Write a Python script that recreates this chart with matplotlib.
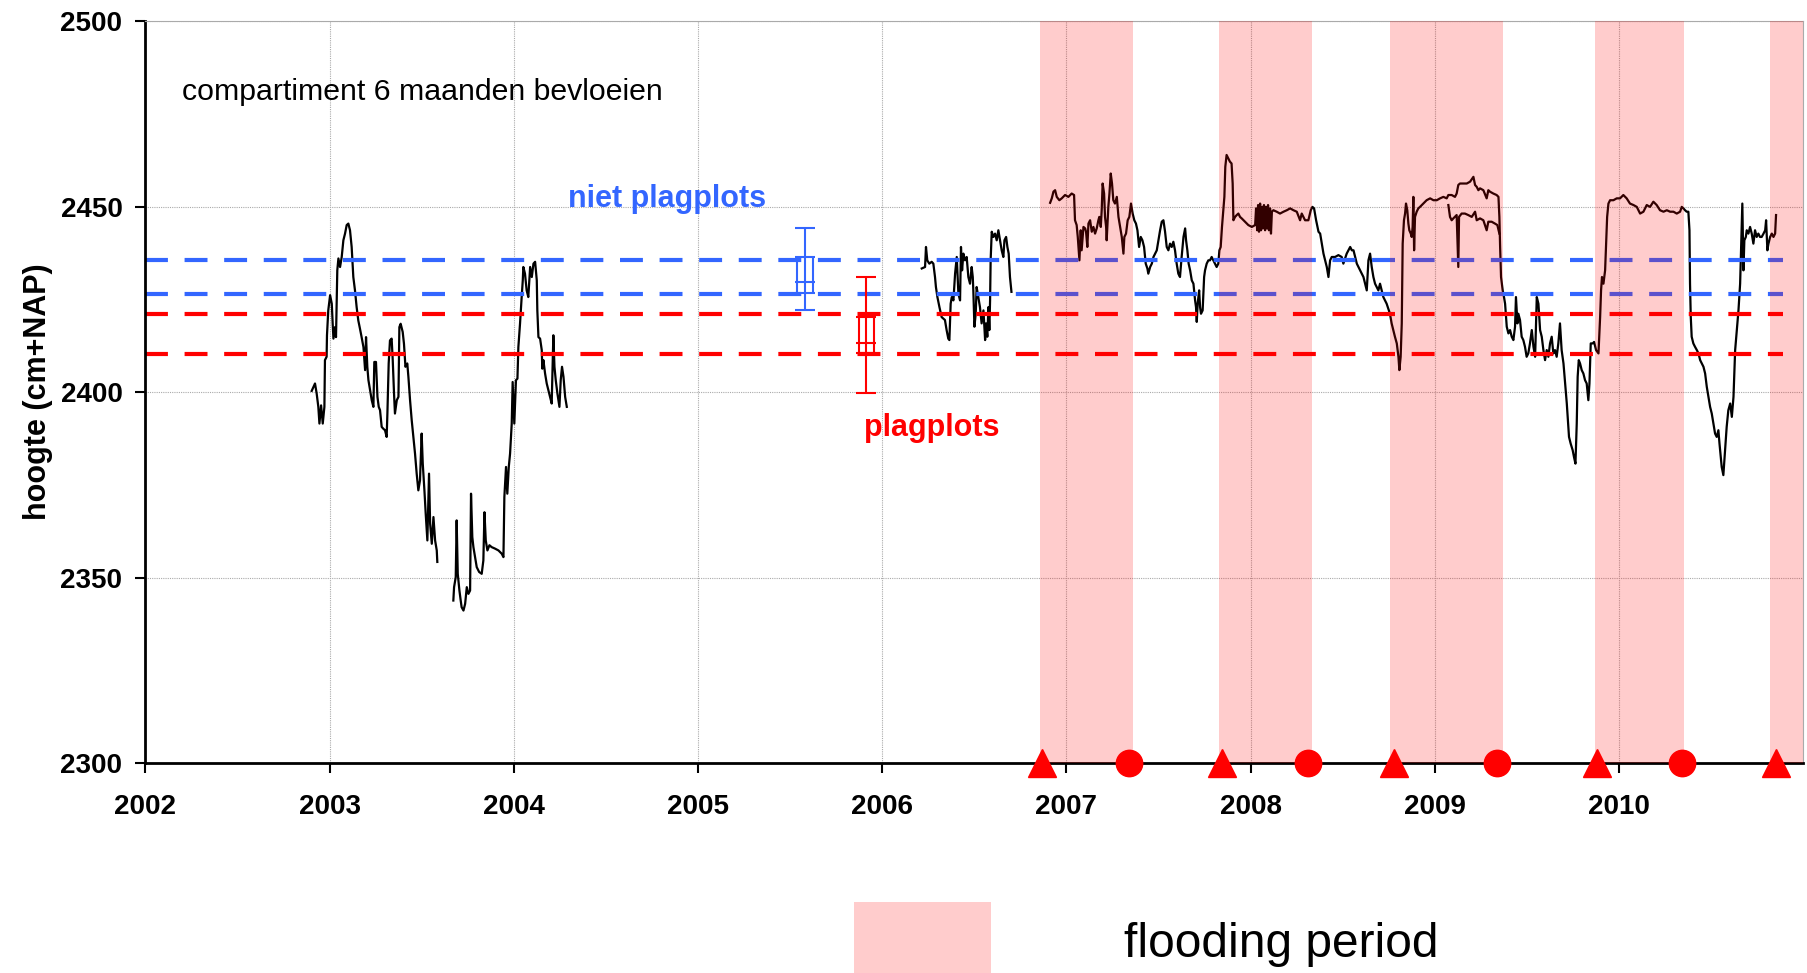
import matplotlib
matplotlib.use("Agg")
import matplotlib.pyplot as plt
from matplotlib.patches import Rectangle

plt.rcParams['font.family'] = ['Liberation Sans', 'DejaVu Sans']

# groundwater level (cm+NAP) per decimal year, one list per logger period
level_2003_early = [
    (2002.903, 2400.3), (2002.921, 2402.3), (2002.930, 2399.6), (2002.939, 2396.0), (2002.945, 2391.5),
    (2002.954, 2396.4), (2002.963, 2391.5), (2002.972, 2396.0), (2002.975, 2408.6), (2002.984, 2409.5),
    (2002.986, 2415.3), (2002.993, 2422.0), (2003.003, 2426.1), (2003.012, 2423.8), (2003.017, 2418.4),
    (2003.021, 2414.4), (2003.030, 2417.5), (2003.035, 2414.8), (2003.042, 2432.8), (2003.048, 2436.0),
    (2003.057, 2433.7), (2003.066, 2436.4), (2003.075, 2440.9), (2003.084, 2442.7), (2003.093, 2445.0),
    (2003.102, 2445.4), (2003.111, 2443.6), (2003.120, 2439.1), (2003.129, 2431.0), (2003.138, 2427.4),
    (2003.147, 2422.9), (2003.156, 2419.3), (2003.165, 2417.1), (2003.174, 2414.8), (2003.184, 2412.1),
    (2003.193, 2405.9), (2003.198, 2414.8), (2003.205, 2406.8), (2003.211, 2403.2), (2003.220, 2400.5),
    (2003.229, 2397.8), (2003.238, 2396.0), (2003.243, 2408.1), (2003.252, 2408.1), (2003.260, 2398.7),
    (2003.267, 2396.0), (2003.274, 2395.1), (2003.283, 2390.6), (2003.292, 2390.1), (2003.301, 2389.7),
    (2003.310, 2387.9), (2003.314, 2394.2), (2003.321, 2407.7), (2003.328, 2413.9), (2003.337, 2414.4),
    (2003.343, 2408.6), (2003.350, 2399.6), (2003.355, 2394.2), (2003.365, 2397.8), (2003.374, 2398.7),
    (2003.379, 2417.5), (2003.386, 2418.4), (2003.397, 2416.2), (2003.404, 2413.0), (2003.412, 2406.8),
    (2003.422, 2407.7), (2003.428, 2404.1), (2003.437, 2397.8), (2003.446, 2392.4), (2003.455, 2387.9),
    (2003.464, 2383.4), (2003.473, 2378.0), (2003.482, 2373.5), (2003.491, 2376.2), (2003.500, 2388.8),
    (2003.506, 2380.7), (2003.515, 2373.5), (2003.522, 2367.2), (2003.531, 2360.0), (2003.540, 2378.0),
    (2003.546, 2364.5), (2003.555, 2359.1), (2003.564, 2366.3), (2003.573, 2360.0), (2003.582, 2357.3),
    (2003.585, 2354.2),
]

level_2003_late = [
    (2003.672, 2343.8), (2003.676, 2347.4), (2003.685, 2350.1), (2003.690, 2365.4), (2003.696, 2351.0),
    (2003.705, 2346.5), (2003.712, 2343.8), (2003.717, 2342.0), (2003.727, 2341.1), (2003.736, 2342.9),
    (2003.745, 2347.4), (2003.754, 2345.6), (2003.763, 2346.5), (2003.768, 2372.6), (2003.775, 2360.9),
    (2003.781, 2358.2), (2003.790, 2355.5), (2003.799, 2352.8), (2003.812, 2351.5), (2003.826, 2351.0),
    (2003.835, 2354.6), (2003.841, 2367.6), (2003.848, 2360.0), (2003.857, 2357.3), (2003.868, 2358.7),
    (2003.880, 2358.2), (2003.898, 2357.8), (2003.917, 2357.3), (2003.935, 2356.4), (2003.944, 2355.5),
    (2003.949, 2371.7), (2003.958, 2379.8), (2003.965, 2372.6), (2003.973, 2379.8), (2003.980, 2383.4),
    (2003.989, 2391.5), (2003.994, 2402.7), (2004.003, 2391.5), (2004.012, 2403.2), (2004.020, 2403.6),
    (2004.025, 2412.1), (2004.034, 2418.4), (2004.043, 2425.6), (2004.049, 2430.1), (2004.052, 2433.7),
    (2004.061, 2431.9), (2004.070, 2427.4), (2004.079, 2425.6), (2004.089, 2433.7), (2004.098, 2431.0),
    (2004.107, 2434.6), (2004.116, 2435.1), (2004.125, 2430.1), (2004.128, 2422.0), (2004.134, 2414.8),
    (2004.143, 2414.4), (2004.152, 2411.3), (2004.155, 2406.3), (2004.161, 2408.6), (2004.170, 2405.0),
    (2004.179, 2402.3), (2004.188, 2400.5), (2004.197, 2398.7), (2004.206, 2396.9), (2004.215, 2415.3),
    (2004.221, 2406.8), (2004.228, 2403.2), (2004.237, 2399.6), (2004.248, 2396.0), (2004.255, 2403.2),
    (2004.262, 2406.8), (2004.270, 2404.1), (2004.279, 2398.7), (2004.288, 2396.0),
]

level_2006 = [
    (2006.215, 2433.3), (2006.233, 2433.7), (2006.238, 2439.1), (2006.245, 2435.5), (2006.256, 2434.6),
    (2006.269, 2435.1), (2006.278, 2434.6), (2006.287, 2431.0), (2006.292, 2428.3), (2006.300, 2425.6),
    (2006.311, 2422.9), (2006.323, 2420.2), (2006.332, 2419.8), (2006.341, 2419.4), (2006.350, 2416.7),
    (2006.359, 2414.4), (2006.365, 2414.0), (2006.372, 2423.8), (2006.378, 2425.6), (2006.387, 2424.7),
    (2006.396, 2431.9), (2006.405, 2436.4), (2006.414, 2426.5), (2006.423, 2424.7), (2006.428, 2439.1),
    (2006.434, 2432.8), (2006.441, 2437.3), (2006.450, 2435.5), (2006.459, 2436.4), (2006.468, 2431.0),
    (2006.477, 2429.2), (2006.486, 2433.7), (2006.492, 2431.0), (2006.495, 2427.4), (2006.501, 2417.6),
    (2006.508, 2421.1), (2006.513, 2428.3), (2006.522, 2425.6), (2006.531, 2422.9), (2006.540, 2418.5),
    (2006.550, 2422.0), (2006.559, 2414.0), (2006.564, 2418.5), (2006.571, 2414.9), (2006.577, 2422.9),
    (2006.582, 2416.7), (2006.586, 2424.7), (2006.589, 2435.5), (2006.595, 2443.2), (2006.604, 2441.8),
    (2006.613, 2442.7), (2006.622, 2440.9), (2006.631, 2443.6), (2006.640, 2440.9), (2006.649, 2438.2),
    (2006.658, 2436.4), (2006.664, 2440.9), (2006.673, 2441.8), (2006.680, 2439.1), (2006.687, 2437.3),
    (2006.694, 2431.0), (2006.702, 2427.0),
]

level_2007_2010 = [
    (2006.912, 2451.0), (2006.921, 2452.2), (2006.930, 2454.0), (2006.939, 2454.4), (2006.948, 2452.6),
    (2006.962, 2451.7), (2006.975, 2452.2), (2006.993, 2453.1), (2007.011, 2452.6), (2007.029, 2453.5),
    (2007.042, 2453.1), (2007.047, 2446.3), (2007.056, 2445.0), (2007.062, 2441.8), (2007.071, 2435.5),
    (2007.078, 2443.6), (2007.083, 2438.2), (2007.093, 2444.5), (2007.102, 2444.1), (2007.107, 2443.2),
    (2007.114, 2439.1), (2007.120, 2445.4), (2007.129, 2446.3), (2007.138, 2443.2), (2007.147, 2444.5),
    (2007.156, 2442.7), (2007.165, 2444.1), (2007.174, 2446.3), (2007.179, 2447.2), (2007.187, 2444.5),
    (2007.192, 2449.0), (2007.197, 2456.2), (2007.205, 2453.5), (2007.210, 2447.2), (2007.216, 2444.5),
    (2007.219, 2440.9), (2007.228, 2449.9), (2007.234, 2453.5), (2007.241, 2458.9), (2007.248, 2456.2),
    (2007.255, 2451.7), (2007.264, 2450.8), (2007.274, 2452.6), (2007.283, 2447.2), (2007.292, 2444.5),
    (2007.301, 2441.8), (2007.310, 2437.3), (2007.315, 2441.8), (2007.324, 2442.7), (2007.333, 2446.3),
    (2007.342, 2447.2), (2007.351, 2450.8), (2007.360, 2448.1), (2007.369, 2446.3), (2007.378, 2445.4),
    (2007.386, 2443.6), (2007.395, 2439.1), (2007.404, 2441.8), (2007.413, 2440.9), (2007.422, 2439.1),
    (2007.431, 2434.6), (2007.440, 2433.3), (2007.445, 2431.9), (2007.455, 2433.7), (2007.464, 2434.6),
    (2007.473, 2436.4), (2007.482, 2437.3), (2007.491, 2438.2), (2007.500, 2440.9), (2007.509, 2443.6),
    (2007.518, 2445.9), (2007.527, 2446.3), (2007.536, 2443.2), (2007.545, 2439.1), (2007.554, 2438.2),
    (2007.563, 2440.0), (2007.572, 2439.1), (2007.581, 2440.5), (2007.590, 2438.2), (2007.599, 2434.6),
    (2007.608, 2431.9), (2007.617, 2431.0), (2007.626, 2436.4), (2007.636, 2441.8), (2007.645, 2444.1),
    (2007.650, 2440.9), (2007.657, 2438.2), (2007.664, 2434.6), (2007.672, 2432.8), (2007.681, 2430.1),
    (2007.690, 2429.2), (2007.699, 2424.7), (2007.704, 2422.9), (2007.708, 2418.9), (2007.713, 2423.8),
    (2007.721, 2427.4), (2007.726, 2422.9), (2007.731, 2421.1), (2007.740, 2422.0), (2007.748, 2431.0),
    (2007.753, 2432.8), (2007.762, 2434.6), (2007.771, 2435.5), (2007.780, 2435.5), (2007.789, 2436.4),
    (2007.798, 2435.5), (2007.807, 2434.6), (2007.816, 2433.7), (2007.825, 2434.6), (2007.831, 2438.2),
    (2007.838, 2439.1), (2007.845, 2444.5), (2007.852, 2449.0), (2007.858, 2452.6), (2007.863, 2460.7),
    (2007.870, 2463.9), (2007.879, 2463.0), (2007.888, 2462.1), (2007.897, 2461.6), (2007.903, 2456.2),
    (2007.907, 2446.3), (2007.916, 2447.2), (2007.925, 2447.7), (2007.934, 2448.1), (2007.943, 2447.2),
    (2007.952, 2446.8), (2007.970, 2445.9), (2007.988, 2445.0), (2008.007, 2444.5), (2008.025, 2445.0),
    (2008.030, 2449.5), (2008.036, 2443.6), (2008.041, 2450.4), (2008.046, 2443.2), (2008.052, 2450.8),
    (2008.057, 2443.6), (2008.063, 2449.9), (2008.068, 2444.1), (2008.073, 2450.4), (2008.079, 2443.6),
    (2008.084, 2449.9), (2008.090, 2444.1), (2008.095, 2450.4), (2008.100, 2443.6), (2008.106, 2449.5),
    (2008.111, 2442.7), (2008.116, 2448.6), (2008.124, 2449.0), (2008.142, 2448.6), (2008.160, 2448.1),
    (2008.179, 2448.6), (2008.197, 2449.0), (2008.215, 2449.5), (2008.233, 2449.0), (2008.251, 2448.6),
    (2008.269, 2446.3), (2008.278, 2448.1), (2008.287, 2447.2), (2008.296, 2446.3), (2008.314, 2446.3),
    (2008.327, 2449.0), (2008.336, 2449.9), (2008.345, 2449.5), (2008.356, 2446.3), (2008.369, 2443.2),
    (2008.378, 2442.7), (2008.387, 2440.0), (2008.396, 2437.3), (2008.405, 2435.5), (2008.414, 2433.7),
    (2008.423, 2431.0), (2008.432, 2435.5), (2008.441, 2436.4), (2008.459, 2436.4), (2008.477, 2436.9),
    (2008.495, 2436.4), (2008.504, 2434.6), (2008.522, 2437.3), (2008.541, 2439.1), (2008.550, 2438.2),
    (2008.559, 2438.2), (2008.568, 2436.4), (2008.577, 2434.6), (2008.586, 2433.7), (2008.595, 2432.8),
    (2008.604, 2431.9), (2008.613, 2431.0), (2008.622, 2429.2), (2008.631, 2427.4), (2008.640, 2435.5),
    (2008.649, 2437.3), (2008.658, 2433.7), (2008.667, 2431.0), (2008.676, 2429.2), (2008.685, 2428.3),
    (2008.694, 2427.4), (2008.703, 2429.2), (2008.721, 2425.6), (2008.739, 2423.8), (2008.757, 2421.1),
    (2008.766, 2418.5), (2008.775, 2416.7), (2008.784, 2414.9), (2008.794, 2413.1), (2008.803, 2409.5),
    (2008.808, 2405.9), (2008.815, 2409.5), (2008.821, 2418.5), (2008.826, 2440.0), (2008.833, 2446.3),
    (2008.839, 2448.1), (2008.844, 2450.8), (2008.851, 2449.0), (2008.857, 2445.4), (2008.862, 2443.6),
    (2008.870, 2442.7), (2008.875, 2441.8), (2008.880, 2444.5), (2008.884, 2452.6), (2008.888, 2438.2),
    (2008.893, 2447.2), (2008.902, 2448.6), (2008.911, 2449.5), (2008.920, 2449.9), (2008.938, 2450.8),
    (2008.956, 2451.7), (2008.975, 2452.2), (2008.993, 2451.7), (2009.011, 2451.7), (2009.029, 2452.2),
    (2009.047, 2452.6), (2009.065, 2452.2), (2009.074, 2453.1), (2009.092, 2453.1), (2009.110, 2452.6),
    (2009.119, 2453.5), (2009.128, 2455.8), (2009.137, 2456.2), (2009.155, 2456.2), (2009.174, 2456.2),
    (2009.192, 2456.7), (2009.210, 2458.0), (2009.219, 2455.8), (2009.228, 2455.3), (2009.237, 2454.4),
    (2009.246, 2454.9), (2009.264, 2454.4), (2009.282, 2452.2), (2009.291, 2454.4), (2009.300, 2454.0),
    (2009.318, 2453.5), (2009.336, 2453.1), (2009.346, 2452.6), (2009.351, 2447.2), (2009.355, 2439.1),
    (2009.360, 2431.0), (2009.369, 2427.4), (2009.376, 2425.6), (2009.382, 2423.8), (2009.391, 2417.6),
    (2009.400, 2415.8), (2009.409, 2416.7), (2009.418, 2414.9), (2009.427, 2414.0), (2009.436, 2417.6),
    (2009.441, 2425.6), (2009.449, 2418.5), (2009.454, 2421.1), (2009.463, 2419.4), (2009.472, 2414.9),
    (2009.481, 2414.0), (2009.490, 2412.2), (2009.499, 2409.5), (2009.508, 2410.4), (2009.517, 2413.1),
    (2009.527, 2416.7), (2009.536, 2412.2), (2009.545, 2409.5), (2009.554, 2425.6), (2009.563, 2423.8),
    (2009.572, 2416.7), (2009.581, 2414.9), (2009.590, 2411.3), (2009.599, 2408.6), (2009.608, 2411.3),
    (2009.617, 2409.5), (2009.626, 2413.1), (2009.635, 2414.9), (2009.644, 2410.4), (2009.653, 2411.3),
    (2009.662, 2409.5), (2009.671, 2413.1), (2009.680, 2418.5), (2009.689, 2411.3), (2009.699, 2407.7),
    (2009.708, 2402.3), (2009.717, 2396.9), (2009.722, 2393.3), (2009.729, 2387.9), (2009.738, 2386.1),
    (2009.749, 2384.3), (2009.756, 2382.5), (2009.764, 2380.7), (2009.771, 2391.5), (2009.776, 2404.1),
    (2009.782, 2408.6), (2009.789, 2407.7), (2009.798, 2405.9), (2009.807, 2405.0), (2009.816, 2403.2),
    (2009.825, 2402.3), (2009.834, 2397.8), (2009.840, 2402.3), (2009.847, 2413.1), (2009.858, 2413.1),
    (2009.865, 2413.5), (2009.876, 2411.3), (2009.889, 2410.4), (2009.898, 2420.3), (2009.903, 2427.4),
    (2009.908, 2431.0), (2009.916, 2429.2), (2009.925, 2432.8), (2009.930, 2439.1), (2009.936, 2447.2),
    (2009.943, 2450.8), (2009.952, 2451.7), (2009.970, 2451.7), (2009.988, 2452.2), (2010.006, 2452.2),
    (2010.024, 2453.1), (2010.042, 2452.2), (2010.060, 2450.8), (2010.079, 2450.4), (2010.097, 2449.9),
    (2010.115, 2448.1), (2010.133, 2448.6), (2010.151, 2450.4), (2010.169, 2449.9), (2010.187, 2451.3),
    (2010.205, 2450.4), (2010.223, 2449.0), (2010.242, 2448.6), (2010.260, 2449.0), (2010.278, 2448.6),
    (2010.296, 2448.6), (2010.314, 2448.1), (2010.332, 2448.6), (2010.341, 2449.9), (2010.350, 2449.5),
    (2010.359, 2449.0), (2010.368, 2448.6), (2010.377, 2448.6), (2010.383, 2443.6), (2010.386, 2429.2),
    (2010.390, 2420.3), (2010.395, 2414.9), (2010.404, 2413.1), (2010.413, 2412.2), (2010.423, 2411.3),
    (2010.432, 2410.4), (2010.441, 2408.6), (2010.450, 2407.7), (2010.459, 2406.8), (2010.468, 2405.0),
    (2010.477, 2401.4), (2010.486, 2398.7), (2010.495, 2396.0), (2010.504, 2394.2), (2010.513, 2391.5),
    (2010.522, 2388.8), (2010.531, 2387.9), (2010.540, 2389.7), (2010.546, 2386.1), (2010.553, 2382.5),
    (2010.558, 2379.8), (2010.567, 2377.6), (2010.576, 2384.3), (2010.585, 2390.6), (2010.594, 2395.1),
    (2010.604, 2396.9), (2010.613, 2393.3), (2010.622, 2398.7), (2010.631, 2411.3), (2010.640, 2416.7),
    (2010.649, 2422.0), (2010.658, 2429.2), (2010.663, 2438.2), (2010.670, 2450.8), (2010.676, 2432.8),
    (2010.681, 2440.9), (2010.689, 2441.8), (2010.694, 2443.6), (2010.703, 2442.7), (2010.712, 2444.5),
    (2010.721, 2442.7), (2010.730, 2440.0), (2010.739, 2443.6), (2010.748, 2441.8), (2010.757, 2442.7),
    (2010.766, 2441.8), (2010.775, 2441.8), (2010.785, 2442.7), (2010.794, 2443.6), (2010.799, 2446.3),
    (2010.806, 2438.2), (2010.812, 2440.0), (2010.821, 2441.8), (2010.830, 2442.7), (2010.839, 2441.8),
    (2010.848, 2442.7), (2010.853, 2447.7),
]

# second logger, running in parallel during the 2009 inundation
level_2009_second = [
    (2009.074, 2450.4), (2009.083, 2447.2), (2009.092, 2446.3), (2009.101, 2446.8), (2009.119, 2447.7),
    (2009.128, 2433.7), (2009.132, 2447.2), (2009.146, 2448.1), (2009.164, 2448.1), (2009.182, 2447.7),
    (2009.201, 2447.2), (2009.219, 2448.6), (2009.228, 2446.3), (2009.246, 2446.8), (2009.264, 2446.3),
    (2009.282, 2443.6), (2009.291, 2445.9), (2009.309, 2445.9), (2009.327, 2445.4), (2009.340, 2445.0),
    (2009.351, 2442.7),
]

# flooding periods and the in/out dates of the water
flood_start = [2006.858, 2007.830, 2008.759, 2009.872, 2010.818]
flood_end = [2007.362, 2008.333, 2009.369, 2010.353, 2011.0]
inlet_dates = [2006.870, 2007.843, 2008.781, 2009.881, 2010.855]
outlet_dates = [2007.340, 2008.311, 2009.340, 2010.343]

# soil surface height of the plots
niet_plag_lines = [2435.5, 2426.5]
plag_lines = [2421.1, 2410.2]
lines_end = 2010.89

# plot height summaries: position, min, lower, middle, upper, max
niet_plag_stats = dict(x=2005.581, lo=2422.1, q1=2426.6, mid=2429.6, q3=2436.3, hi=2444.3)
plag_stats = dict(x=2005.913, lo=2399.8, q1=2410.4, mid=2413.3, q3=2420.1, hi=2431.1)

BLUE = '#3366ff'
RED = '#ff0000'

fig = plt.figure(figsize=(18.08, 9.73), dpi=100)
ax = fig.add_axes([0.0804, 0.2158, 0.9169, 0.7626])

for seg in (level_2003_early, level_2003_late, level_2006, level_2007_2010, level_2009_second):
    t, h = zip(*seg)
    ax.plot(t, h, color='black', lw=1.6, zorder=2)

for y in niet_plag_lines:
    ax.plot([2002, lines_end], [y, y], color=BLUE, lw=3, ls=(0, (5.5, 4)), zorder=2)
for y in plag_lines:
    ax.plot([2002, lines_end], [y, y], color=RED, lw=3, ls=(0, (5.5, 4)), zorder=2)

cap = 0.054
box = 0.041
for st, c in ((niet_plag_stats, BLUE), (plag_stats, RED)):
    x = st['x']
    ax.vlines(x, st['lo'], st['hi'], colors=c, lw=1.5, zorder=2)
    ax.vlines([x - box, x + box], st['q1'], st['q3'], colors=c, lw=1.5, zorder=2)
    ax.hlines([st['lo'], st['hi'], st['q1'], st['q3'], st['mid']], x - cap, x + cap,
              colors=c, lw=1.5, zorder=2)

for s, e in zip(flood_start, flood_end):
    ax.axvspan(s, e, color='red', alpha=0.2, lw=0, zorder=3)

ax.plot(inlet_dates, [2300] * len(inlet_dates), ls='none', marker='^', ms=20,
        color=RED, clip_on=False, zorder=5)
ax.plot(outlet_dates, [2300] * len(outlet_dates), ls='none', marker='o', ms=19,
        color=RED, clip_on=False, zorder=5)

ax.set_xlim(2002, 2011)
ax.set_ylim(2300, 2500)
ax.set_xticks(range(2002, 2011))
ax.set_yticks(range(2300, 2501, 50))
ax.grid(True, color='#aaaaaa', lw=0.8, ls=(0, (1, 1)))
ax.set_axisbelow(True)

for side in ('left', 'bottom'):
    ax.spines[side].set_linewidth(2)
for side in ('top', 'right'):
    ax.spines[side].set_color('#aaaaaa')
    ax.spines[side].set_linewidth(0.8)

ax.tick_params(length=7.5, width=1.5, direction='out', labelsize=20)
ax.tick_params(axis='x', pad=15)
ax.tick_params(axis='y', pad=9)
plt.setp(ax.get_xticklabels() + ax.get_yticklabels(), fontweight='bold')

ax.set_ylabel('hoogte (cm+NAP)', fontsize=22, fontweight='bold')
ax.yaxis.set_label_coords(-0.056, 0.5)

ax.text(2002.2, 2481.0, 'compartiment 6 maanden bevloeien', fontsize=21.8, ha='left', va='center')
ax.text(2004.83, 2452.1, 'niet plagplots', color=BLUE, fontsize=22, fontweight='bold',
        ha='center', va='center')
ax.text(2006.27, 2390.4, 'plagplots', color=RED, fontsize=22, fontweight='bold',
        ha='center', va='center')

# legend for the flooding periods, below the plot
fig.add_artist(Rectangle((0.4726, 0), 0.0753, 0.0733, transform=fig.transFigure,
                         facecolor='#ffcccc', edgecolor='none'))
fig.text(0.6219, 0.0296, 'flooding period', fontsize=34.5, ha='left', va='center')

fig.savefig('out.png', dpi=100)
